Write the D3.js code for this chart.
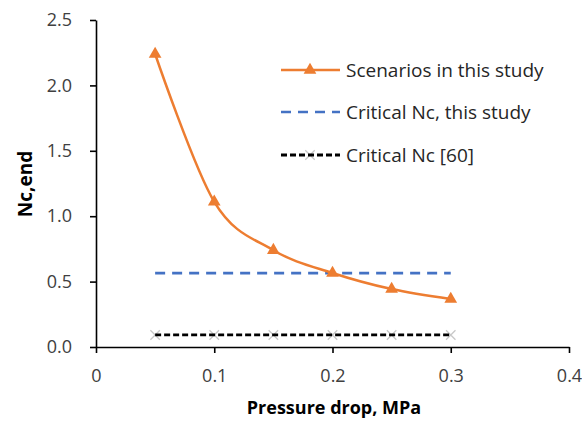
<!DOCTYPE html>
<html><head><meta charset="utf-8">
<script src="https://cdn.jsdelivr.net/npm/d3@7"></script>
<style>body{margin:0;background:#fff}text{font-family:"Open Sans",Lato,sans-serif}</style>
</head><body><svg id="c" width="582" height="421"></svg>
<script>
const pressure = [0.05, 0.10, 0.15, 0.20, 0.25, 0.30];
const scenarios = [2.24, 1.11, 0.74, 0.566, 0.443, 0.367];
const criticalThis = [0.565, 0.565, 0.565, 0.565, 0.565, 0.565];
const critical60 = [0.092, 0.092, 0.092, 0.092, 0.092, 0.092];
const xTicks = [0, 0.1, 0.2, 0.3, 0.4];
const xTickLabels = ["0", "0.1", "0.2", "0.3", "0.4"];
const yTicks = [0, 0.5, 1.0, 1.5, 2.0, 2.5];
const legendLabels = ["Scenarios in this study", "Critical Nc, this study", "Critical Nc [60]"];

const svg = d3.select("#c");
const x = d3.scaleLinear().domain([0, 0.4]).range([96, 569]);
const y = d3.scaleLinear().domain([0, 2.5]).range([347, 20]);

const xAxis = svg.append("g").attr("transform", "translate(0,347)")
  .call(d3.axisBottom(x).tickValues(xTicks).tickFormat((d,i)=>xTickLabels[i]).tickSize(6).tickSizeOuter(0));
const yAxis = svg.append("g").attr("transform", "translate(96,0)")
  .call(d3.axisLeft(y).tickValues(yTicks).tickFormat(d3.format(".1f")).tickSize(6).tickSizeOuter(0));
[xAxis, yAxis].forEach(a => {
  a.select(".domain").attr("stroke", "#000").attr("stroke-width", 1.6);
  a.selectAll(".tick line").attr("stroke", "#000").attr("stroke-width", 1.6);
  a.selectAll(".tick text").attr("fill", "#404040").style("font-size", "18px");
});
xAxis.selectAll(".tick text").attr("dy", "26px");
yAxis.selectAll(".tick text").attr("dx", "-15px");

svg.append("text").attr("x", 334).attr("y", 414).attr("text-anchor", "middle")
  .style("font-size", "18px").style("font-weight", "bold").attr("fill", "#000").text("Pressure drop, MPa");
svg.append("text").attr("transform", "translate(32,184) rotate(-90)").attr("text-anchor", "middle")
  .style("font-size", "19px").style("font-weight", "bold").attr("fill", "#000").text("Nc,end");

const orange = "#ED7D31", blue = "#4472C4";
const line = d3.line().x((d,i)=>x(pressure[i])).y(d=>y(d));

// black dashed with X markers
const xm = d3.symbol().type(d3.symbolX).size(60);
svg.append("g").selectAll("path").data(critical60).join("path")
  .attr("d", xm).attr("transform", (d,i)=>`translate(${x(pressure[i])},${y(d)})`)
  .attr("stroke", "#c8c8c8").attr("stroke-width", 1.3).attr("fill", "none");
svg.append("path").datum(critical60).attr("d", line).attr("fill", "none")
  .attr("stroke", "#000").attr("stroke-width", 2.8).attr("stroke-dasharray", "6,3");

// blue dashed
svg.append("path").datum(criticalThis).attr("d", line).attr("fill", "none")
  .attr("stroke", blue).attr("stroke-width", 2.6).attr("stroke-dasharray", "10,7");

// orange smooth
svg.append("path").datum(scenarios).attr("d", line.curve(d3.curveCardinal.tension(0))).attr("fill", "none")
  .attr("stroke", orange).attr("stroke-width", 2.5);
const tri = d3.symbol().type(d3.symbolTriangle).size(70);
svg.append("g").selectAll("path").data(scenarios).join("path")
  .attr("d", tri).attr("transform", (d,i)=>`translate(${x(pressure[i])},${y(d)})`).attr("fill", orange);

// legend
const lg = svg.append("g");
const ly = [70, 112, 155];
lg.append("line").attr("x1", 281).attr("x2", 340).attr("y1", ly[0]).attr("y2", ly[0]).attr("stroke", orange).attr("stroke-width", 2.5);
lg.append("path").attr("d", tri).attr("transform", `translate(310,${ly[0]})`).attr("fill", orange);
lg.append("line").attr("x1", 281).attr("x2", 340).attr("y1", ly[1]).attr("y2", ly[1]).attr("stroke", blue).attr("stroke-width", 2.6).attr("stroke-dasharray", "10,7");
lg.append("path").attr("d", xm).attr("transform", `translate(310,${ly[2]})`).attr("stroke", "#c8c8c8").attr("stroke-width", 1.3).attr("fill","none");
lg.append("line").attr("x1", 281).attr("x2", 340).attr("y1", ly[2]).attr("y2", ly[2]).attr("stroke", "#000").attr("stroke-width", 2.8).attr("stroke-dasharray", "6,3");
lg.selectAll("text.l").data(legendLabels).join("text").attr("class", "l")
  .attr("x", 346).attr("y", (d,i)=>ly[i]).attr("dy", "0.35em")
  .style("font-size", "19px").attr("fill", "#262626").text(d=>d);
</script></body></html>
